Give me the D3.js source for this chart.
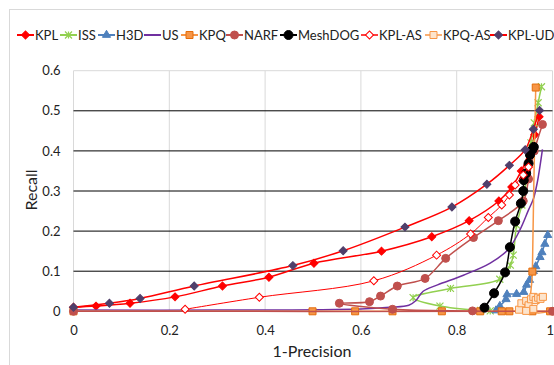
<!DOCTYPE html>
<html><head><meta charset="utf-8">
<script src="https://cdn.jsdelivr.net/npm/d3@7"></script>
<style>
body{margin:0;background:#fff;}
svg{display:block;font-family:Lato,"Open Sans",sans-serif;}
</style></head>
<body><svg id="c" width="554" height="365"></svg>
<script>
// ---- data (x = 1-Precision, y = Recall) ----
const seriesNames = ["KPL","ISS","H3D","US","KPQ","NARF","MeshDOG","KPL-AS","KPQ-AS","KPL-UD"];
const xTicks = [0,0.2,0.4,0.6,0.8,1];
const yTicks = [0,0.1,0.2,0.3,0.4,0.5,0.6];

const KPL = [[0,0.01],[0.047,0.013],[0.118,0.02],[0.212,0.036],[0.311,0.063],[0.408,0.085],[0.502,0.12],[0.643,0.15],[0.748,0.186],[0.826,0.226],[0.888,0.275],[0.915,0.31],[0.935,0.35],[0.952,0.40],[0.963,0.44],[0.972,0.485]];
const ISS = [[0.87,0.001],[0.85,0.002],[0.765,0.013],[0.709,0.034],[0.787,0.057],[0.89,0.08],[0.912,0.115],[0.918,0.14],[0.925,0.215],[0.936,0.265],[0.946,0.33],[0.955,0.42],[0.962,0.47],[0.97,0.52],[0.977,0.56]];
const H3D = [[0.882,0.002],[0.89,0.013],[0.903,0.03],[0.905,0.042],[0.925,0.043],[0.94,0.048],[0.946,0.066],[0.952,0.078],[0.96,0.1],[0.965,0.112],[0.974,0.135],[0.978,0.147],[0.984,0.168],[0.99,0.19]];
const US = [[0,0.003],[0.3,0.003],[0.6,0.006],[0.66,0.01],[0.7,0.015],[0.715,0.027],[0.73,0.05],[0.76,0.066],[0.814,0.09],[0.87,0.12],[0.908,0.155],[0.932,0.203],[0.95,0.253],[0.96,0.28],[0.968,0.32],[0.979,0.404]];
const KPQ = [[0,0],[0.499,0],[0.588,0],[0.666,0],[0.769,0],[0.849,0],[0.894,0],[0.91,0],[0.995,0],[0.958,0],[0.958,0.099],[0.965,0.558]];
const NARF = [[0.979,0.466],[0.962,0.40],[0.95,0.33],[0.939,0.275],[0.887,0.226],[0.835,0.184],[0.777,0.132],[0.734,0.082],[0.676,0.063],[0.641,0.038],[0.618,0.024],[0.555,0.02],[0.666,0.005],[0.833,0.001],[1.0,0.0],[0,0]];
const MeshDOG = [[0.858,0.009],[0.878,0.045],[0.901,0.097],[0.911,0.16],[0.922,0.224],[0.934,0.269],[0.939,0.3],[0.94,0.327],[0.945,0.344],[0.95,0.369],[0.953,0.39],[0.958,0.403],[0.961,0.41]];
const KPL_AS = [[0.233,0.005],[0.388,0.035],[0.627,0.076],[0.758,0.14],[0.829,0.193],[0.866,0.234],[0.894,0.265],[0.91,0.29],[0.922,0.315],[0.939,0.34],[0.95,0.36]];
const KPQ_AS = [[0.93,0.004],[0.935,0.02],[0.945,0.026],[0.95,0.015],[0.955,0.03],[0.96,0.036],[0.965,0.028],[0.97,0.034],[0.975,0.031],[0.98,0.036],[0.96,0.006],[0.945,0.001]];
const KPL_UD = [[0,0.01],[0.075,0.02],[0.139,0.032],[0.252,0.063],[0.458,0.114],[0.563,0.151],[0.692,0.21],[0.79,0.26],[0.863,0.317],[0.91,0.364],[0.943,0.403],[0.96,0.454],[0.973,0.501]];
const seriesData = [KPL,ISS,H3D,US,KPQ,NARF,MeshDOG,KPL_AS,KPQ_AS,KPL_UD];

// ---- styles ----
const styles = [
 {line:"#FF0000",lw:1.5,mk:"diamond",fill:"#FF0000",stroke:"#FF0000",size:8},
 {line:"#92D050",lw:1.5,mk:"asterisk",fill:"none",stroke:"#92D050",size:7},
 {line:"#4F81BD",lw:1.5,mk:"triangle",fill:"#4F81BD",stroke:"#4F81BD",size:8},
 {line:"#7030A0",lw:1.5,mk:null},
 {line:"#F79646",lw:1.5,mk:"square",fill:"#F79646",stroke:"#E46C0A",size:7},
 {line:"#C0504D",lw:1.5,mk:"circle",fill:"#C0504D",stroke:"#C0504D",size:8},
 {line:"#000000",lw:1.5,mk:"circle",fill:"#000000",stroke:"#000000",size:9},
 {line:"#FF0000",lw:1,mk:"diamond",fill:"#FFFFFF",stroke:"#FF0000",size:8},
 {line:"#F79646",lw:1,mk:"square",fill:"#FDE4CC",stroke:"#F79646",size:7},
 {line:"#FF0000",lw:1.5,mk:"diamond",fill:"#4F3F6B",stroke:"#4F3F6B",size:8}
];

const svg = d3.select("#c");
const x = d3.scaleLinear().domain([0,1]).range([73.5,552.5]);
const y = d3.scaleLinear().domain([0,0.6]).range([311.3,70.7]);

// outer border
svg.append("rect").attr("x",9.5).attr("y",9.5).attr("width",600).attr("height",400)
  .attr("fill","none").attr("stroke","#D9D9D9");

// vertical gridlines
svg.append("g").selectAll("line").data(xTicks).join("line")
  .attr("x1",d=>x(d)).attr("x2",d=>x(d)).attr("y1",y(0)).attr("y2",y(0.6))
  .attr("stroke","#D9D9D9").attr("stroke-width",1);
// top border line
svg.append("line").attr("x1",x(0)).attr("x2",x(1)).attr("y1",y(0.6)).attr("y2",y(0.6))
  .attr("stroke","#D9D9D9");
// horizontal gridlines
svg.append("g").selectAll("line").data(yTicks.filter(v=>v>0 && v<0.6)).join("line")
  .attr("x1",x(0)).attr("x2",x(1)).attr("y1",d=>y(d)).attr("y2",d=>y(d))
  .attr("stroke","#000").attr("stroke-width",1);

// axes (labels only)
const fmt = d=> d===0?"0":(d===1?"1":d3.format(".1f")(d));
const gx = svg.append("g").attr("transform",`translate(0,${y(0)})`)
  .call(d3.axisBottom(x).tickValues(xTicks).tickFormat(fmt).tickSize(0).tickPadding(14));
const gy = svg.append("g").attr("transform",`translate(${x(0)},0)`)
  .call(d3.axisLeft(y).tickValues(yTicks).tickFormat(fmt).tickSize(0).tickPadding(13));
[gx,gy].forEach(g=>{g.select(".domain").remove();
  g.selectAll("text").attr("font-family","Lato,sans-serif").attr("font-size",13).attr("fill","#222");});
gx.selectAll(".tick text").filter(d=>d===1).attr("text-anchor","end").attr("dx",1);

svg.append("text").attr("x",312).attr("y",357).attr("text-anchor","middle")
  .attr("font-size",16).attr("fill","#222").text("1-Precision");
svg.append("text").attr("transform","translate(37,190) rotate(-90)").attr("text-anchor","middle")
  .attr("font-size",16).attr("fill","#222").text("Recall");

// marker path
function markerPath(type,s){
  if(type==="diamond") return d3.symbol().type(d3.symbolSquare).size(s*s/2)();
  if(type==="square") return d3.symbol().type(d3.symbolSquare).size(s*s)();
  if(type==="circle") return d3.symbol().type(d3.symbolCircle).size(Math.PI*s*s/4)();
  if(type==="triangle") return d3.symbol().type(d3.symbolTriangle).size(s*s*0.45)();
  if(type==="asterisk"){const h=s/2; return `M${-h},${-h}L${h},${h}M${-h},${h}L${h},${-h}M0,${-h}L0,${h}`;}
  return "";
}
function drawMarker(g,st,px,py){
  return g.append("path").attr("d",markerPath(st.mk,st.size))
    .attr("fill",st.fill).attr("stroke",st.stroke).attr("stroke-width",st.mk==="asterisk"?1.2:1)
    .attr("transform",`translate(${px},${py})`+(st.mk==="diamond"?" rotate(45)":""));
}

const line = d3.line().x(d=>x(d[0])).y(d=>y(d[1])).curve(d3.curveCatmullRom.alpha(0.5));
const plot = svg.append("g");
seriesData.forEach((data,i)=>{
  const st = styles[i];
  const g = plot.append("g");
  g.append("path").datum(data).attr("d",line).attr("fill","none")
    .attr("stroke",st.line).attr("stroke-width",st.lw);
  if(st.mk) data.forEach(d=>drawMarker(g,st,x(d[0]),y(d[1])));
});

// legend
const legendX = [17,60,98,144,181,226,280,361,425,490];
const lg = svg.append("g");
seriesNames.forEach((n,i)=>{
  const st = styles[i], lx = legendX[i], ly = 35;
  lg.append("line").attr("x1",lx).attr("x2",lx+17).attr("y1",ly).attr("y2",ly)
    .attr("stroke",st.line).attr("stroke-width",st.lw+0.5);
  if(st.mk) drawMarker(lg,st,lx+8.5,ly);
  lg.append("text").attr("x",lx+18).attr("y",39.5).attr("font-size",13).attr("fill","#222").text(n);
});
</script></body></html>
